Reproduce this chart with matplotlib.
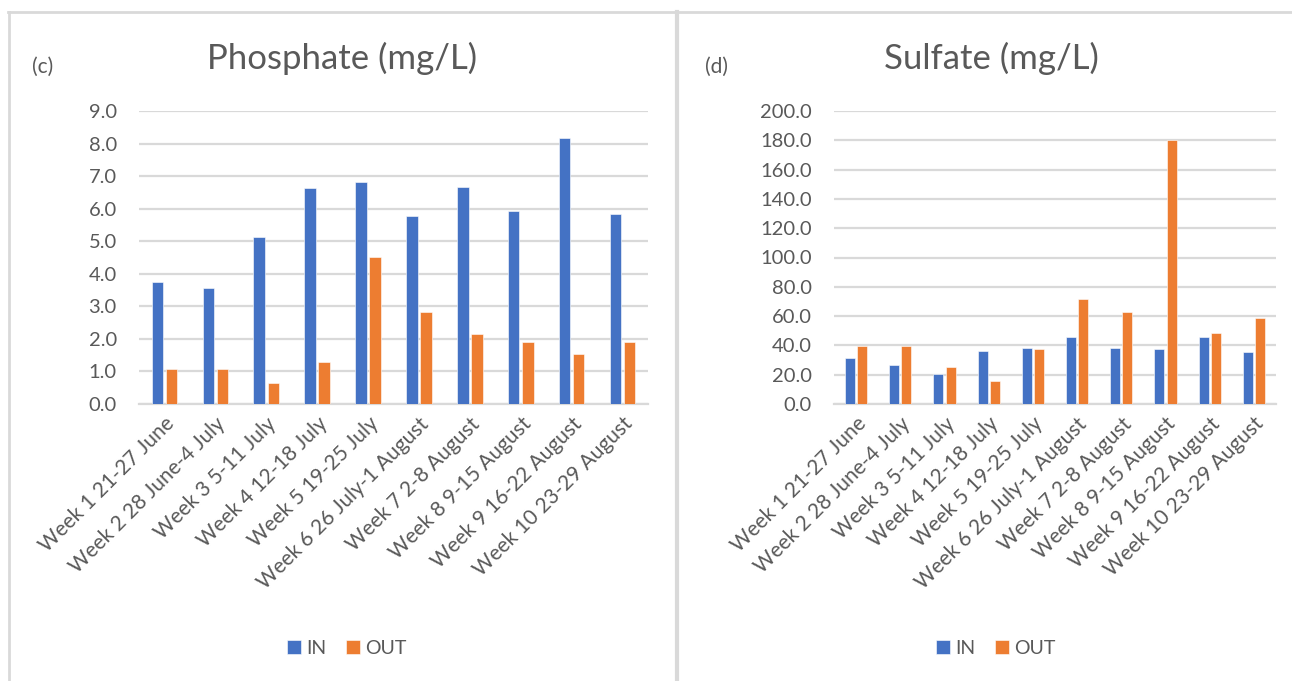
import matplotlib
matplotlib.use("Agg")
import matplotlib.pyplot as plt
import numpy as np
from matplotlib.lines import Line2D

plt.rcParams['font.family'] = ['Lato', 'DejaVu Sans']

weeks = ["Week 1 21-27 June", "Week 2 28 June-4 July", "Week 3 5-11 July",
         "Week 4 12-18 July", "Week 5 19-25 July", "Week 6 26 July-1 August",
         "Week 7 2-8 August", "Week 8 9-15 August", "Week 9 16-22 August",
         "Week 10 23-29 August"]

phosphate_in = [3.75, 3.57, 5.14, 6.64, 6.83, 5.77, 6.67, 5.92, 8.17, 5.84]
phosphate_out = [1.09, 1.09, 0.65, 1.28, 4.51, 2.82, 2.15, 1.91, 1.55, 1.91]

sulfate_in = [31.1, 26.8, 20.7, 36.4, 38.2, 45.9, 38.2, 37.3, 45.9, 35.5]
sulfate_out = [39.8, 39.8, 25.0, 15.5, 37.3, 72.0, 62.5, 180.5, 48.6, 58.4]

BLUE = "#4472C4"
ORANGE = "#ED7D31"
TEXT = "#595959"
GRID = "#D9D9D9"

W, H = 1292, 681
fig = plt.figure(figsize=(W / 100, H / 100), dpi=100)


def fx(px):
    return px / W


def fy(py):
    return 1 - py / H


# panel frames
fig.add_artist(Line2D([fx(8), 1.0], [fy(12), fy(12)], color=GRID, lw=2.0))
fig.add_artist(Line2D([fx(9), fx(9)], [fy(12), 0], color=GRID, lw=2.0))
fig.add_artist(Line2D([fx(677.5), fx(677.5)], [fy(12), 0], color=GRID, lw=3.0))


def panel(left_px, right_px, vin, vout, ymax, step, title, title_x, tag, tag_x, legend_x):
    ax = fig.add_axes([fx(left_px), fy(404), fx(right_px - left_px), fy(111) - fy(404)])
    x = np.arange(len(weeks))
    bw = 0.225
    off = bw / 2 + 0.026
    ax.bar(x - off, vin, width=bw, color=BLUE, edgecolor="white", linewidth=0.4, zorder=3, label="IN")
    ax.bar(x + off, vout, width=bw, color=ORANGE, edgecolor="white", linewidth=0.4, zorder=3, label="OUT")
    ax.set_xlim(-0.5, len(weeks) - 0.5)
    ax.set_ylim(0, ymax)
    ticks = np.arange(0, ymax + step / 2, step)
    ax.set_yticks(ticks)
    ax.set_yticklabels([f"{t:.1f}" for t in ticks], fontsize=14.5, color=TEXT)
    ax.yaxis.grid(True, color=GRID, lw=1.6, zorder=0)
    ax.set_axisbelow(True)
    for s in ["top", "right", "left"]:
        ax.spines[s].set_visible(False)
    ax.spines["bottom"].set_color(GRID)
    ax.spines["bottom"].set_linewidth(1.6)
    ax.tick_params(axis="y", length=0, pad=16)
    ax.tick_params(axis="x", length=0, pad=7)
    ax.set_xticks(x)
    ax.set_xticklabels(weeks, rotation=45, ha="right", va="top", rotation_mode="anchor",
                       fontsize=15, color=TEXT)
    fig.text(fx(title_x), fy(58), title, fontsize=25, color=TEXT, ha="center", va="center")
    fig.text(fx(tag_x), fy(67), tag, fontsize=15, color=TEXT, ha="center", va="center")
    ax.legend(loc="center", bbox_to_anchor=(fx(legend_x), fy(648)), bbox_transform=fig.transFigure,
              ncol=2, frameon=False, fontsize=14, labelcolor=TEXT, handlelength=0.7,
              handleheight=0.7, handletextpad=0.3, columnspacing=1.0)
    return ax


panel(139, 648, phosphate_in, phosphate_out, 9.0, 1.0, "Phosphate (mg/L)", 342, "(c)", 43, 347)
panel(834, 1276, sulfate_in, sulfate_out, 200.0, 20.0, "Sulfate (mg/L)", 991, "(d)", 716, 996)

fig.savefig("out.png", dpi=100, facecolor="white")
